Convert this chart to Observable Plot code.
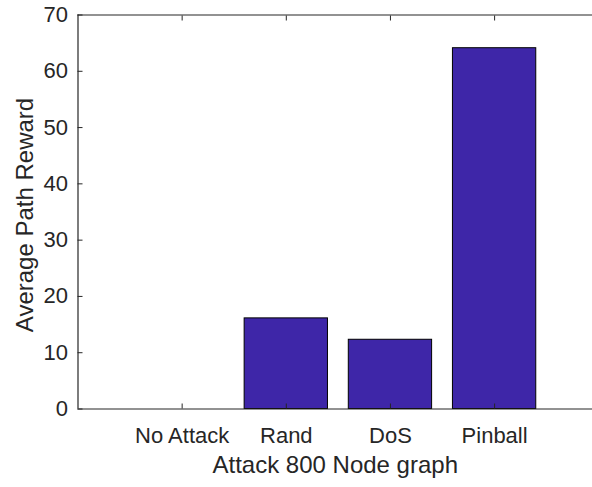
<!DOCTYPE html>
<html>
<head>
<meta charset="utf-8">
<script src="https://cdn.jsdelivr.net/npm/d3@7"></script>
<script src="https://cdn.jsdelivr.net/npm/@observablehq/plot@0.6"></script>
<style>
  html, body { margin: 0; padding: 0; background: white; }
</style>
</head>
<body>
<div id="chart"></div>
<script>
const categories = ["No Attack", "Rand", "DoS", "Pinball"];
const values = [0, 16.1, 12.3, 64.1];
const yTicks = [0, 10, 20, 30, 40, 50, 60, 70];
const xLabel = "Attack 800 Node graph";
const yLabel = "Average Path Reward";

const data = categories.map((c, i) => ({pos: i + 1, name: c, value: values[i]}));
const xTicks = data.map(d => d.pos);
const ink = "#262626";

const chart = Plot.plot({
  width: 592,
  height: 487,
  marginLeft: 77.5,
  marginTop: 14.5,
  marginBottom: 78.5,
  marginRight: 0,
  style: {fontFamily: "'Liberation Sans', Arial, Helvetica, sans-serif", color: ink, background: "white", overflow: "visible"},
  x: {type: "linear", domain: [0, 4.94]},
  y: {domain: [0, 70]},
  marks: [
    Plot.rectY(data, {x1: d => d.pos - 0.4, x2: d => d.pos + 0.4, y: "value", fill: "#3e26a8", stroke: "#000", strokeWidth: 1}),
    Plot.ruleY([0, 70], {stroke: ink, strokeWidth: 1.2}),
    Plot.ruleX([0], {stroke: ink, strokeWidth: 1.2}),
    // y tick labels
    Plot.axisY(yTicks, {anchor: "left", tickSize: 0, tickPadding: 10, fontSize: 22, label: null, stroke: ink, fill: ink}),
    // inward y ticks
    Plot.axisY(yTicks, {anchor: "left", tickSize: 5, dx: 5, tickFormat: () => "", label: null, stroke: ink}),
    // x tick labels
    Plot.axisX(xTicks, {anchor: "bottom", tickSize: 0, tickPadding: 18, fontSize: 22, label: null, tickFormat: d => categories[d - 1], fill: ink}),
    // inward x ticks bottom and top
    Plot.axisX(xTicks, {anchor: "bottom", tickSize: 5, dy: -5, tickFormat: () => "", label: null, stroke: ink}),
    Plot.axisX(xTicks, {anchor: "top", tickSize: 5, dy: 5, tickFormat: () => "", label: null, stroke: ink}),
    // axis titles
    Plot.text([xLabel], {frameAnchor: "bottom", lineAnchor: "middle", textAnchor: "middle", dy: 56, fontSize: 24, fill: ink, text: d => d}),
    Plot.text([yLabel], {frameAnchor: "left", textAnchor: "middle", lineAnchor: "middle", dx: -52.5, dy: 3, rotate: -90, fontSize: 24, fill: ink, text: d => d})
  ]
});
document.getElementById("chart").appendChild(chart);
</script>
</body>
</html>
